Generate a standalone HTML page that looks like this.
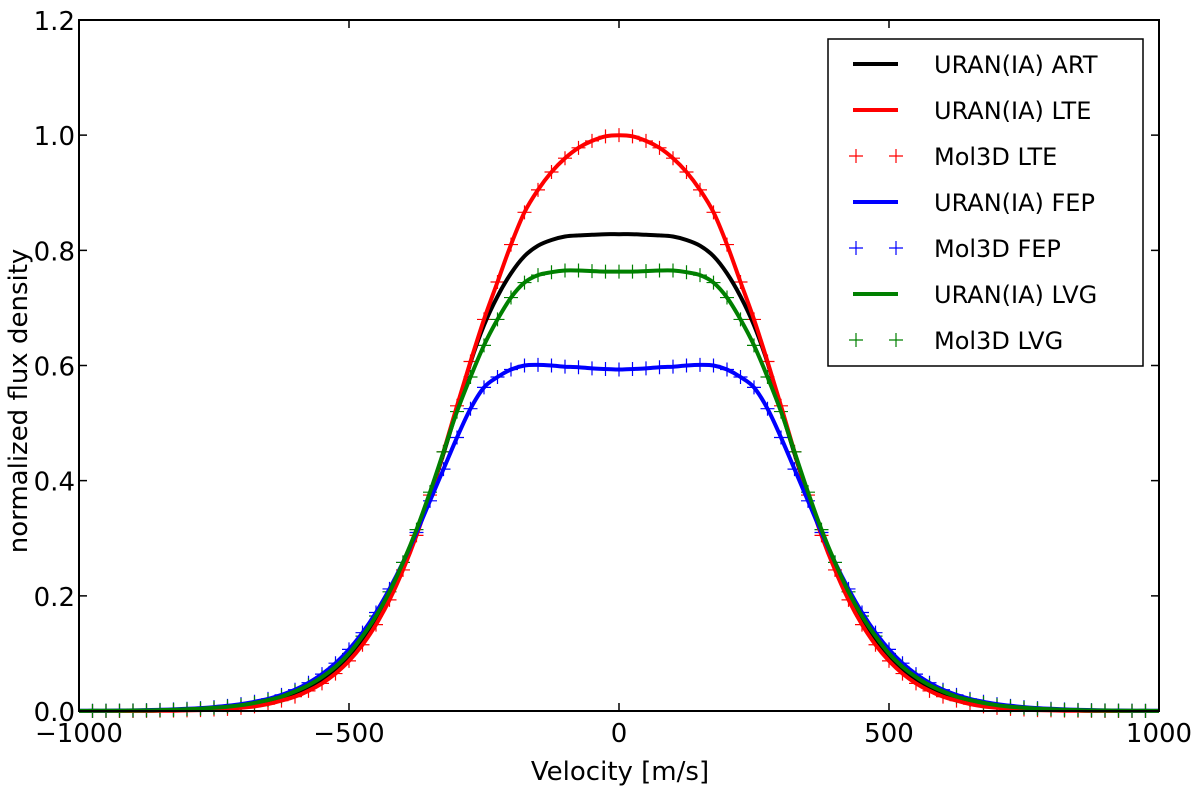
<!DOCTYPE html>
<html><head><meta charset="utf-8"><style>
html,body{margin:0;padding:0;background:#fff;}
svg{display:block;font-family:"DejaVu Sans","Liberation Sans",sans-serif;}
</style></head><body>
<svg id="chart" width="1200" height="789">
<g id="plot"></g>
</svg>
<script>
// velocity grid (half profile, mirrored symmetric)
const velocityHalf=[0,25,50,75,100,125,150,175,200,225,250,275,300,325,350,375,400,425,450,475,500,525,550,575,600,625,650,675,700,725,750,775,800,825,850,875,900,925,950,975,1000];
const artValues=[0.828,0.828,0.827,0.826,0.824,0.818,0.808,0.79,0.76,0.72,0.67,0.605,0.525,0.447,0.375,0.31,0.252,0.2,0.157,0.12,0.092,0.07,0.052,0.038,0.028,0.02,0.014,0.01,0.007,0.005,0.0035,0.0025,0.0017,0.0012,0.0008,0.0005,0.0003,0.0002,0.0001,0.0001,0];
const lteValues=[1.0,0.998,0.99,0.978,0.96,0.936,0.905,0.866,0.81,0.745,0.68,0.607,0.53,0.45,0.375,0.305,0.245,0.193,0.15,0.115,0.087,0.065,0.048,0.035,0.025,0.018,0.012,0.008,0.0055,0.0037,0.0025,0.0016,0.001,0.0006,0.0004,0.0002,0.0001,0.0001,0,0,0];
const fepValues=[0.593,0.594,0.595,0.597,0.598,0.6,0.601,0.6,0.593,0.58,0.562,0.525,0.475,0.42,0.365,0.31,0.258,0.212,0.171,0.136,0.107,0.083,0.064,0.049,0.037,0.028,0.021,0.016,0.012,0.009,0.0068,0.005,0.0038,0.0028,0.002,0.0015,0.0011,0.0008,0.0006,0.0004,0.0003];
const lvgValues=[0.763,0.763,0.764,0.765,0.765,0.762,0.757,0.744,0.718,0.68,0.635,0.58,0.52,0.45,0.38,0.315,0.258,0.207,0.165,0.13,0.1,0.077,0.059,0.045,0.034,0.025,0.019,0.014,0.01,0.0075,0.0055,0.004,0.003,0.002,0.0015,0.001,0.0008,0.0006,0.0004,0.0003,0.0002];
const xTicks=[-1000,-500,0,500,1000];
const yTicks=[0.0,0.2,0.4,0.6,0.8,1.0,1.2];
const legendLabels=["URAN(IA) ART","URAN(IA) LTE","Mol3D LTE","URAN(IA) FEP","Mol3D FEP","URAN(IA) LVG","Mol3D LVG"];

const L=79,R=1159,T=20,B=711;
const sx=v=>L+(v+1000)/2000*(R-L);
const sy=v=>B-v/1.2*(B-T);
const NS="http://www.w3.org/2000/svg";
const g=document.getElementById('plot');
function mk(tag,attrs,parent){const e=document.createElementNS(NS,tag);for(const k in attrs)e.setAttribute(k,attrs[k]);(parent||g).appendChild(e);return e;}
function full(vals){const xs=[],ys=[];for(let i=velocityHalf.length-1;i>0;i--){xs.push(-velocityHalf[i]);ys.push(vals[i]);}for(let i=0;i<velocityHalf.length;i++){xs.push(velocityHalf[i]);ys.push(vals[i]);}return [xs,ys];}
function line(vals,color,name){const [xs,ys]=full(vals);const P=xs.map((x,i)=>[sx(x),sy(ys[i])]);
let d='M'+P[0][0].toFixed(1)+','+P[0][1].toFixed(1);
for(let i=0;i<P.length-1;i++){const p0=P[Math.max(0,i-1)],p1=P[i],p2=P[i+1],p3=P[Math.min(P.length-1,i+2)];
const c1=[p1[0]+(p2[0]-p0[0])/6,p1[1]+(p2[1]-p0[1])/6],c2=[p2[0]-(p3[0]-p1[0])/6,p2[1]-(p3[1]-p1[1])/6];
d+=`C${c1[0].toFixed(1)},${c1[1].toFixed(1)} ${c2[0].toFixed(1)},${c2[1].toFixed(1)} ${p2[0].toFixed(1)},${p2[1].toFixed(1)}`;}
const p=mk('path',{d:d,fill:'none',stroke:color,'stroke-width':4,'stroke-linejoin':'round'});

}
function marks(vals,color,name){const [xs,ys]=full(vals);const grp=mk('g',{stroke:color,'stroke-width':1.2});


xs.forEach((x,i)=>{if(Math.abs(x)>=1000)return;const X=sx(x),Y=sy(ys[i]);mk('path',{d:`M${X-7},${Y}H${X+7}M${X},${Y-7}V${Y+7}`},grp);});}
marks(lteValues,'#ff0000','mol3d-lte-markers');
marks(fepValues,'#0000ff','mol3d-fep-markers');
marks(lvgValues,'#008000','mol3d-lvg-markers');
line(artValues,'#000000','uran-art-line');
line(lteValues,'#ff0000','uran-lte-line');
line(fepValues,'#0000ff','uran-fep-line');
line(lvgValues,'#008000','uran-lvg-line');
const fr=mk('rect',{x:L,y:T,width:R-L,height:B-T,fill:'none',stroke:'#000','stroke-width':2});


xTicks.forEach(t=>{const X=sx(t);mk('path',{d:`M${X},${B}V${B-8}M${X},${T}V${T+8}`,stroke:'#000','stroke-width':1.5});
const tx=mk('text',{x:X,y:B+31,'text-anchor':'middle','font-size':26});tx.textContent=(t<0?'\u2212'+(-t):t);

});
yTicks.forEach(t=>{const Y=sy(t);mk('path',{d:`M${L},${Y}H${L+8}M${R},${Y}H${R-8}`,stroke:'#000','stroke-width':1.5});
const tx=mk('text',{x:L-4,y:Y+10,'text-anchor':'end','font-size':26});tx.textContent=t.toFixed(1);

});
const xl=mk('text',{x:620,y:780,'text-anchor':'middle','font-size':26});xl.textContent='Velocity [m/s]';


const yl=mk('text',{x:0,y:0,'text-anchor':'middle','font-size':26,transform:'translate(27,401) rotate(-90)'});yl.textContent='normalized flux density';


const lg=mk('g',{});


mk('rect',{x:828,y:39,width:315,height:327,fill:'#fff',stroke:'#000','stroke-width':1.5},lg);
const lc=['#000','#ff0000','#ff0000','#0000ff','#0000ff','#008000','#008000'];
legendLabels.forEach((lab,i)=>{const Y=64+i*46;const e=mk('g',{},lg);


if(i==2||i==4||i==6){[856,896].forEach(X=>mk('path',{d:`M${X-7},${Y}H${X+7}M${X},${Y-7}V${Y+7}`,stroke:lc[i],'stroke-width':1.2},e));}
else mk('path',{d:`M853,${Y}H898`,stroke:lc[i],'stroke-width':4},e);
const t=mk('text',{x:934,y:Y+9,'font-size':24},e);t.textContent=lab;});
</script>
</body></html>
